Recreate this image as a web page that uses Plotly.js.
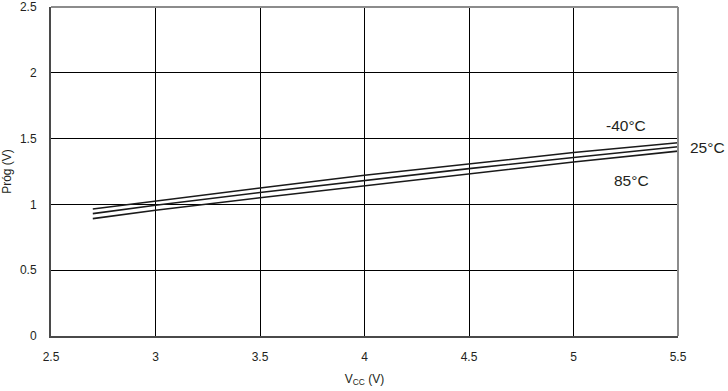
<!DOCTYPE html>
<html>
<head>
<meta charset="utf-8">
<script src="https://cdn.plot.ly/plotly-3.0.1.min.js"></script>
<style>html,body{margin:0;padding:0;background:#fff;}#chart{width:728px;height:391px;}</style>
</head>
<body>
<div id="chart"></div>
<script>
const vcc = [2.7, 3.0, 3.5, 4.0, 4.5, 5.0, 5.5];
const progM40 = [0.965, 1.026, 1.125, 1.221, 1.310, 1.394, 1.468];
const prog25  = [0.930, 0.993, 1.090, 1.183, 1.272, 1.356, 1.438];
const prog85  = [0.892, 0.955, 1.050, 1.140, 1.233, 1.322, 1.405];
const seriesNames = ['-40\u00b0C', '25\u00b0C', '85\u00b0C'];
const xTicks = [2.5, 3, 3.5, 4, 4.5, 5, 5.5];
const yTicks = [0, 0.5, 1, 1.5, 2, 2.5];

const lineStyle = {color: '#1a1a1a', width: 1.6};
const traces = [progM40, prog25, prog85].map((y, i) => ({
  x: vcc, y: y, type: 'scatter', mode: 'lines', name: seriesNames[i],
  line: lineStyle, hoverinfo: 'skip'
}));

const font = {family: 'Liberation Sans, Arial, sans-serif', color: '#231f20'};
const layout = {
  width: 728, height: 391,
  margin: {l: 51, r: 50, t: 7, b: 55},
  paper_bgcolor: '#fff', plot_bgcolor: '#fff',
  showlegend: false,
  font: Object.assign({size: 12}, font),
  xaxis: {
    range: [2.5, 5.5], tickvals: xTicks, ticktext: xTicks.map(String),
    showgrid: true, gridcolor: '#000', gridwidth: 1, zeroline: false,
    showline: true, linecolor: '#4a4a4a', linewidth: 2,
    ticks: 'outside', ticklen: 9, tickcolor: 'rgba(0,0,0,0)',
    tickfont: Object.assign({size: 12}, font),
    title: {text: 'V<sub>CC</sub> (V)', font: Object.assign({size: 12}, font), standoff: 11}
  },
  yaxis: {
    range: [0, 2.5], tickvals: yTicks, ticktext: yTicks.map(String),
    showgrid: true, gridcolor: '#000', gridwidth: 1, zeroline: false,
    showline: true, linecolor: '#4a4a4a', linewidth: 2,
    ticks: 'outside', ticklen: 10, tickcolor: 'rgba(0,0,0,0)',
    tickfont: Object.assign({size: 12}, font),
    title: {text: 'Pr\u00f3g (V)', font: Object.assign({size: 12}, font), standoff: 6}
  },
  shapes: [
    {type: 'line', xref: 'paper', yref: 'paper', x0: 0, x1: 1, y0: 1, y1: 1, line: {color: '#8c8c8c', width: 2}},
    {type: 'line', xref: 'paper', yref: 'paper', x0: 1, x1: 1, y0: 0, y1: 1, line: {color: '#8c8c8c', width: 2}}
  ],
  annotations: [
    {x: 0.9165, y: 1.60, xref: 'paper', yref: 'y', xanchor: 'center', yanchor: 'middle', text: seriesNames[0], showarrow: false, font: Object.assign({size: 15.5}, font)},
    {x: 1.047, y: 1.436, xref: 'paper', yref: 'y', xanchor: 'center', yanchor: 'middle', text: seriesNames[1], showarrow: false, font: Object.assign({size: 15.5}, font)},
    {x: 0.9266, y: 1.183, xref: 'paper', yref: 'y', xanchor: 'center', yanchor: 'middle', text: seriesNames[2], showarrow: false, font: Object.assign({size: 15.5}, font)}
  ]
};
Plotly.newPlot('chart', traces, layout, {staticPlot: true, displayModeBar: false});
</script>
</body>
</html>
